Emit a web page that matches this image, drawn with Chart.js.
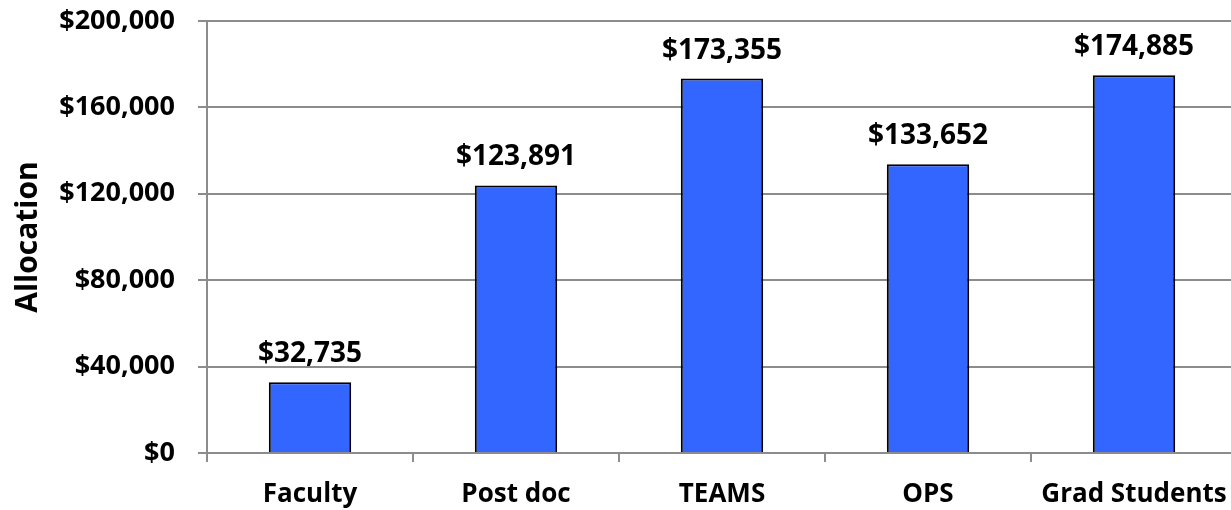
<!DOCTYPE html>
<html>
<head>
<meta charset="utf-8">
<script src="https://cdn.jsdelivr.net/npm/chart.js@4"></script>
<style>
  html, body { margin: 0; padding: 0; overflow: hidden; background: #fff; }
  #wrap { width: 1237px; height: 510px; position: relative; }
</style>
</head>
<body>
<div id="wrap"><canvas id="myChart"></canvas></div>
<script>
const ctx = document.getElementById('myChart').getContext('2d');

// Categories along the x-axis
const categories = ['Faculty', 'Post doc', 'TEAMS', 'OPS', 'Grad Students'];

// Allocation per category (dollars)
const allocation = [32735, 123891, 173355, 133652, 174885];

// Y-axis range and step
const yMin = 0;
const yMax = 200000;
const yStep = 40000;

const money = v => '$' + Number(v).toLocaleString('en-US');

const FONT = "'Open Sans', 'DejaVu Sans', sans-serif";

// Draw value labels above each bar
const valueLabels = {
    id: 'valueLabels',
    afterDatasetsDraw(chart) {
        const c = chart.ctx;
        const meta = chart.getDatasetMeta(0);
        c.save();
        c.font = "bold 28px " + FONT;
        c.fillStyle = '#000';
        c.textAlign = 'center';
        c.textBaseline = 'alphabetic';
        meta.data.forEach((bar, i) => {
            c.fillText(money(allocation[i]), bar.x, bar.y - 20);
        });
        c.restore();
    }
};

const data = {
    labels: categories,
    datasets: [{
        label: 'Allocation',
        data: allocation,
        backgroundColor: '#3366ff',
        borderColor: '#000000',
        borderWidth: 2,
        barPercentage: 0.4,
        categoryPercentage: 1.0
    }]
};

const options = {
    responsive: true,
    maintainAspectRatio: false,
    animation: false,
    layout: {
        padding: { top: 21, right: 0, bottom: 0, left: 0 }
    },
    plugins: {
        legend: { display: false },
        tooltip: { enabled: false }
    },
    scales: {
        x: {
            offset: true,
            // fixed axis height, no extra side padding for the long last label
            afterFit: scale => {
                scale.height = 57;
                scale.paddingLeft = 0;
                scale.paddingRight = 0;
            },
            grid: {
                offset: true,
                drawOnChartArea: false,
                drawTicks: true,
                tickLength: 9,
                color: '#8c8c8c',
                lineWidth: 2
            },
            border: { color: '#8c8c8c', width: 2 },
            ticks: {
                color: '#000',
                padding: 17,
                font: { family: FONT, size: 26, weight: 'bold' },
                maxRotation: 0,
                autoSkip: false
            }
        },
        y: {
            min: yMin,
            max: yMax,
            afterFit: scale => {
                scale.width = 207;
                scale.paddingTop = 0;
                scale.paddingBottom = 0;
            },
            ticks: {
                stepSize: yStep,
                color: '#000',
                padding: 23,
                font: { family: FONT, size: 27, weight: 'bold' },
                callback: v => money(v)
            },
            grid: {
                color: '#8c8c8c',
                lineWidth: 2,
                tickLength: 9
            },
            border: { color: '#8c8c8c', width: 2 },
            title: {
                display: true,
                text: 'Allocation',
                color: '#000',
                font: { family: FONT, size: 30, weight: 'bold' },
                padding: { top: 10, bottom: 0 }
            }
        }
    }
};

const myChart = new Chart(ctx, {
    type: 'bar',
    data: data,
    options: options,
    plugins: [valueLabels]
});
</script>
</body>
</html>
